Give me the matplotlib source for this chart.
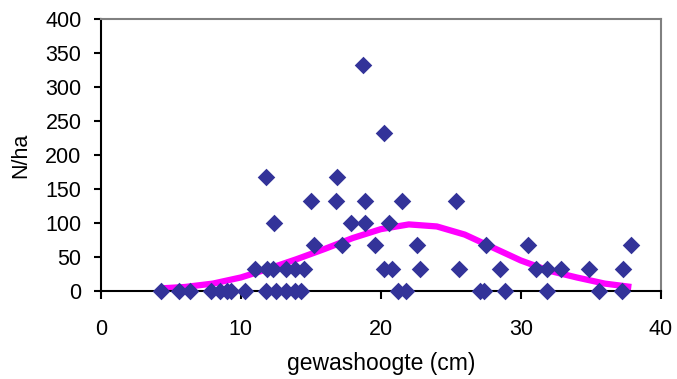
"""Scatter of N/ha against crop height with a fitted curve."""

import matplotlib

matplotlib.use("Agg")
import matplotlib.pyplot as plt

plt.rcParams["font.family"] = ["Liberation Sans", "DejaVu Sans"]

# Observations (crop height in cm, N/ha)
height_cm = [
    4.3, 5.6, 6.4, 7.9, 8.5, 9.0, 9.3, 10.3, 11.8, 12.5, 13.2, 13.9, 14.3,
    21.2, 21.8, 27.1, 27.4, 28.9, 31.9, 35.6, 37.2,
    11.0, 11.9, 12.3, 13.2, 13.9, 14.5, 20.2, 20.8, 22.8, 25.6, 28.5,
    31.1, 31.9, 32.9, 34.9, 37.3,
    15.2, 17.2, 19.6, 22.6, 27.5, 30.5, 37.9,
    12.4, 17.9, 18.9, 20.6,
    15.0, 16.8, 18.9, 21.5, 25.4,
    11.8, 16.9,
    20.2, 18.7,
]
n_per_ha = [
    0, 0, 0, 0, 0, 0, 0, 0, 0, 0, 0, 0, 0,
    0, 0, 0, 0, 0, 0, 0, 0,
    33, 33, 33, 33, 33, 33, 33, 33, 33, 33, 33,
    33, 33, 33, 33, 33,
    67, 67, 67, 67, 67, 67, 67,
    100, 100, 100, 100,
    133, 133, 133, 133, 133,
    167, 167,
    233, 333,
]

# Fitted curve
fit_x = [4.3, 6, 8, 10, 12, 14, 16, 18, 20, 22, 24, 26, 28, 30, 32, 34, 36, 37.9]
fit_y = [4, 6, 11, 20, 33, 47, 62, 78, 91, 98, 95, 83, 64, 45, 30, 20, 11, 6]

fig = plt.figure(figsize=(6.77, 3.79), dpi=100)
ax = fig.add_axes([0.149, 0.232, 0.827, 0.718])

ax.scatter(height_cm, n_per_ha, marker="D", s=80, color="#333399",
           linewidths=0, zorder=3, clip_on=False)
ax.plot(fit_x, fit_y, color="#FF00FF", lw=4.5, zorder=2,
        solid_capstyle="butt")

ax.set_xlim(0, 40)
ax.set_ylim(0, 400)
ax.set_xticks([0, 10, 20, 30, 40])
ax.set_yticks(range(0, 401, 50))

for side in ("top", "right"):
    ax.spines[side].set_color("#808080")
    ax.spines[side].set_linewidth(1.5)
for side in ("left", "bottom"):
    ax.spines[side].set_color("black")
    ax.spines[side].set_linewidth(1.5)

ax.tick_params(axis="x", direction="out", length=6, width=1.5, pad=14,
               labelsize=15.5)
ax.tick_params(axis="y", direction="out", length=5, width=1.5, pad=9,
               labelsize=15.5)

ax.set_xlabel("gewashoogte (cm)", fontsize=16.5, labelpad=9)
ax.set_ylabel("N/ha", fontsize=15.5, labelpad=10)

fig.savefig("out.png", dpi=100)
